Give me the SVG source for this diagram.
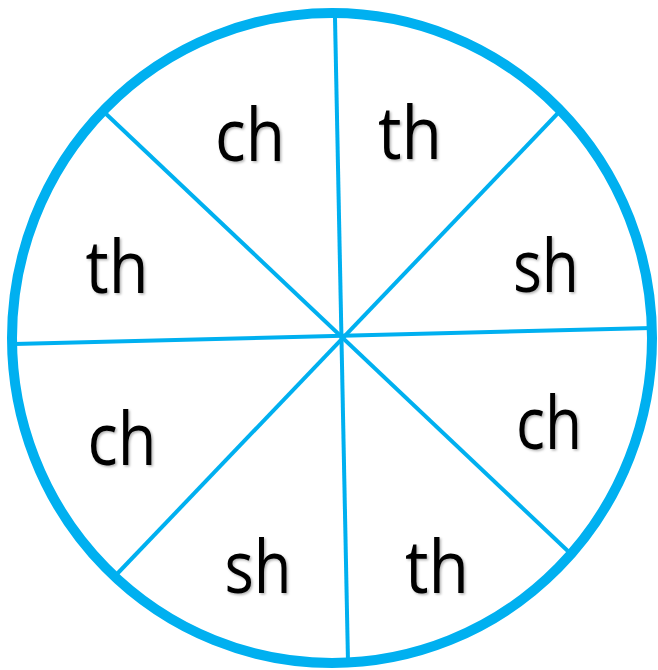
<svg xmlns="http://www.w3.org/2000/svg" width="658" height="670" viewBox="0 0 658 670">
<defs>
<style>
.ring{fill:none;stroke:#00B0F0;stroke-width:10}
.spoke{stroke:#00B0F0;stroke-width:4;stroke-linecap:butt}
.lbl{font-family:"Open Sans","Liberation Sans",sans-serif;font-size:74px;fill:#000;text-anchor:middle;filter:url(#sh)}
</style>
<filter id="sh" x="-20%" y="-20%" width="140%" height="140%">
<feDropShadow dx="1.5" dy="1.5" stdDeviation="1.2" flood-color="#000" flood-opacity="0.3"/>
</filter>
</defs>
<rect width="658" height="670" fill="#fff"/>
<g id="wheel">
<ellipse class="ring" cx="332" cy="338" rx="320" ry="325"/>
</g>
<g id="connectors">
<line class="spoke" x1="335" y1="18" x2="348" y2="662"/>
<line class="spoke" x1="14" y1="344" x2="652" y2="328"/>
<line class="spoke" x1="104" y1="112" x2="571" y2="554"/>
<line class="spoke" x1="559" y1="112" x2="117" y2="574"/>
</g>
<g id="n1"><text class="lbl" x="250" y="161" textLength="70" lengthAdjust="spacingAndGlyphs">ch</text></g>
<g id="n2"><text class="lbl" x="410" y="159" textLength="64" lengthAdjust="spacingAndGlyphs">th</text></g>
<g id="n3"><text class="lbl" x="546" y="292" textLength="66" lengthAdjust="spacingAndGlyphs">sh</text></g>
<g id="n4"><text class="lbl" x="549" y="449" textLength="66" lengthAdjust="spacingAndGlyphs">ch</text></g>
<g id="n5"><text class="lbl" x="437" y="593" textLength="64" lengthAdjust="spacingAndGlyphs">th</text></g>
<g id="n6"><text class="lbl" x="258" y="593" textLength="67" lengthAdjust="spacingAndGlyphs">sh</text></g>
<g id="n7"><text class="lbl" x="122" y="465" textLength="69" lengthAdjust="spacingAndGlyphs">ch</text></g>
<g id="n8"><text class="lbl" x="117" y="293" textLength="63" lengthAdjust="spacingAndGlyphs">th</text></g>
</svg>
